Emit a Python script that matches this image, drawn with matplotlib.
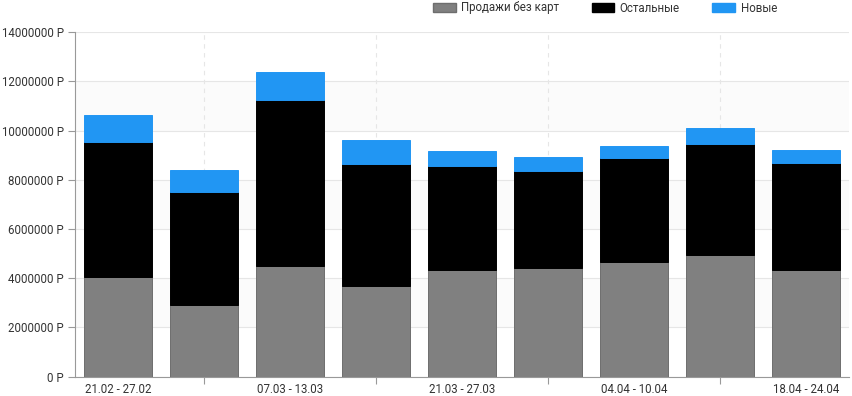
import matplotlib
matplotlib.use("Agg")
import matplotlib.pyplot as plt
from matplotlib.patches import Patch
import numpy as np

plt.rcParams['font.family'] = ['Roboto', 'DejaVu Sans']

categories = ["21.02 - 27.02", "28.02 - 06.03", "07.03 - 13.03", "14.03 - 20.03",
              "21.03 - 27.03", "28.03 - 03.04", "04.04 - 10.04", "11.04 - 17.04",
              "18.04 - 24.04"]
no_cards = [4060000, 2890000, 4500000, 3680000, 4330000, 4400000, 4650000, 4950000, 4340000]
others = [5480000, 4620000, 6750000, 4950000, 4240000, 3970000, 4230000, 4490000, 4340000]
new = [1080000, 870000, 1130000, 980000, 610000, 560000, 490000, 650000, 530000]
series_names = ["Продажи без карт", "Остальные", "Новые"]
colors = ["#808080", "#000000", "#2196F3"]
edges = ["#6e6e6e", "#000000", "#2196F3"]
yticks = [0, 2000000, 4000000, 6000000, 8000000, 10000000, 12000000, 14000000]

FS = 8.3
fig = plt.figure(figsize=(8.53, 3.96), dpi=100)
ax = fig.add_axes([75/853, 1-376.5/396, 774/853, (376.5-32.3)/396])

x = np.arange(len(categories))
for lo in [10000000, 6000000, 2000000]:
    ax.axhspan(lo, lo+2000000, color="#fbfbfb", zorder=0, lw=0)

bottom = np.zeros(len(categories))
for vals, c, e in zip([no_cards, others, new], colors, edges):
    ax.bar(x, vals, width=0.8, bottom=bottom, color=c, edgecolor=e, linewidth=0.7, zorder=3)
    bottom += np.array(vals)

ax.set_xlim(-0.5, len(categories)-0.5)
ax.set_ylim(0, 14000000)
ax.set_yticks(yticks)
ax.set_yticklabels([f"{v} Р" for v in yticks], fontsize=FS, color="#333333")
ax.yaxis.grid(True, color="#e6e6e6", lw=0.8, zorder=1)
ax.set_axisbelow(True)

ax.set_xticks(x)
ax.set_xticklabels([c if i % 2 == 0 else "" for i, c in enumerate(categories)],
                   fontsize=FS, color="#333333")
for i, t in enumerate(ax.xaxis.get_major_ticks()):
    if i % 2 == 0:
        t.tick1line.set_visible(False)
    else:
        ax.axvline(i, color="#e6e6e6", lw=0.8, ls=(0, (4, 4)), zorder=1)
ax.tick_params(axis='x', length=5, color="#999999", pad=0)
ax.tick_params(axis='y', length=5, color="#999999", pad=3)

for s in ["top", "right"]:
    ax.spines[s].set_visible(False)
for s in ["left", "bottom"]:
    ax.spines[s].set_color("#999999")
    ax.spines[s].set_linewidth(0.8)

handles = [Patch(facecolor=c, edgecolor=e, label=n) for c, e, n in zip(colors, edges, series_names)]
fig.legend(handles=handles, loc="center", bbox_to_anchor=(605/853, 1-8/396), ncol=3,
           frameon=False, fontsize=FS, handlelength=1.95, handleheight=0.7,
           handletextpad=0.5, columnspacing=2.8, labelcolor="#333333")

fig.savefig("out.png", dpi=100)
